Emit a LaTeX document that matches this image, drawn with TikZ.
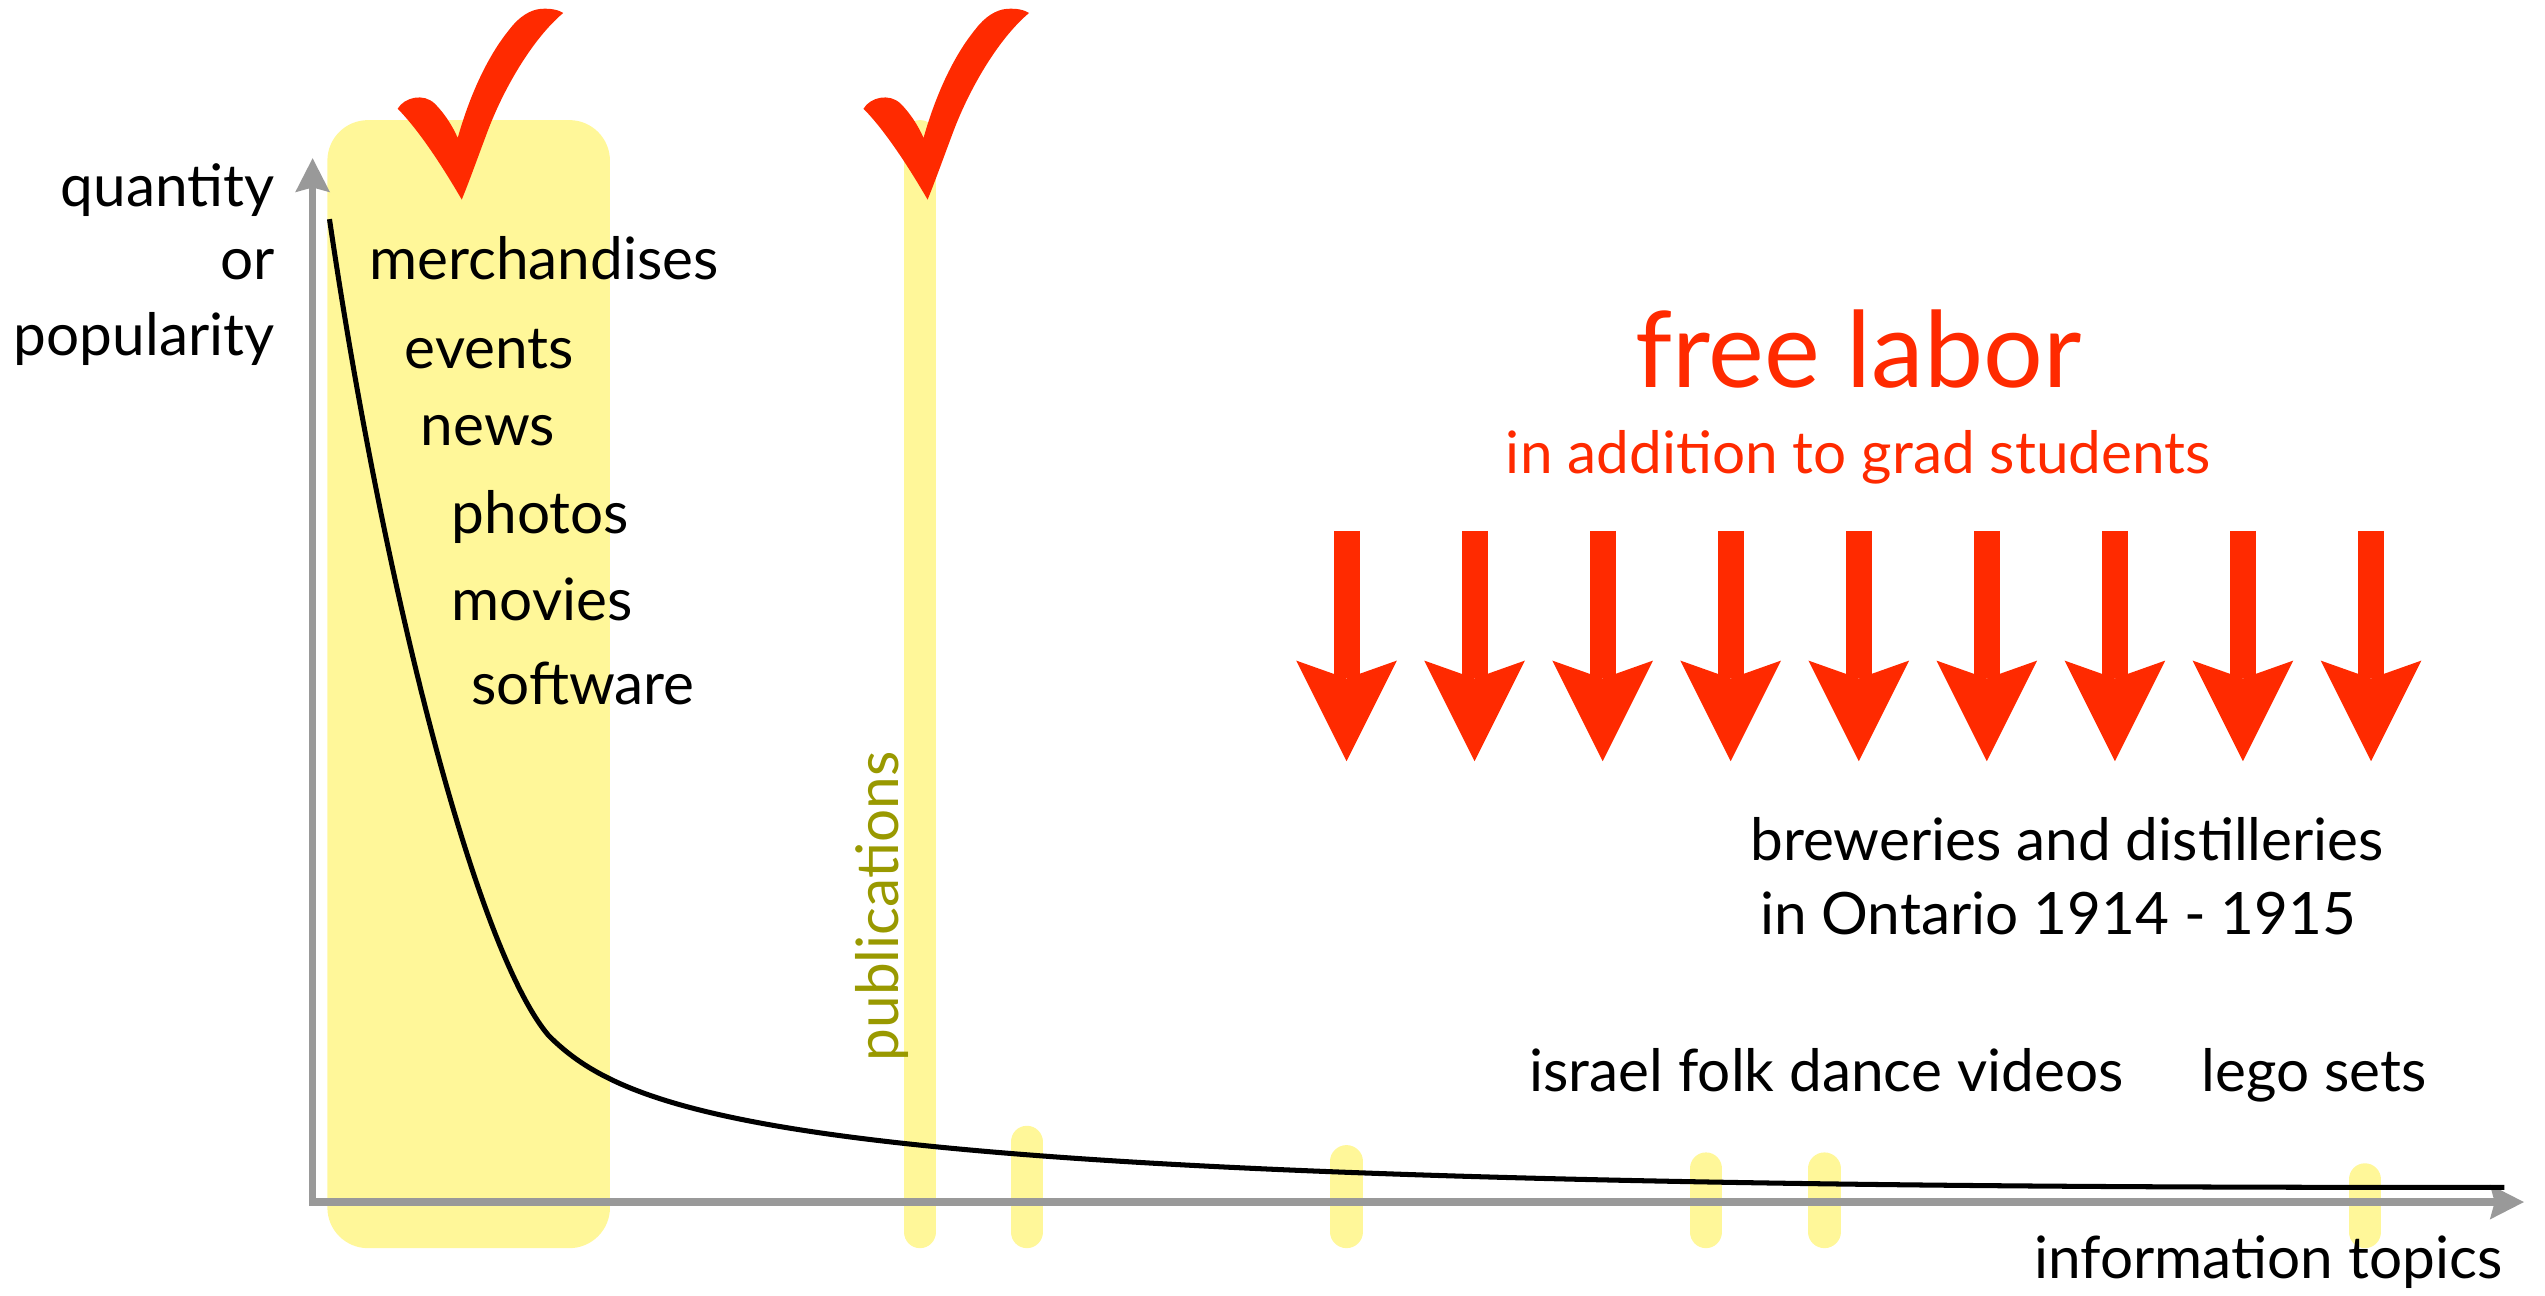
\documentclass[tikz,border=0pt]{standalone}
\usepackage{fontspec}
\setmainfont{Lato}
\usetikzlibrary{arrows.meta}
\definecolor{tailyellow}{HTML}{FFF799}
\definecolor{laborred}{HTML}{FF2A00}
\definecolor{axisgray}{HTML}{999999}
\definecolor{pubolive}{HTML}{999900}
\tikzset{
  redcheck/.pic={
    \fill[laborred] (0,0) .. controls (-14.5,-25) and (-28.5,-45) .. (-39.5,-56)
      .. controls (-35.5,-63) and (-23.5,-66) .. (-16.5,-59)
      .. controls (-10.5,-53) and (-5.5,-45) .. (-2.5,-38)
      .. controls (4.5,-63) and (15.5,-88) .. (29.5,-105)
      .. controls (35.5,-113) and (42.5,-117) .. (48.5,-117.5)
      .. controls (54.5,-118) and (59.5,-117) .. (62.5,-115)
      .. controls (43.5,-99) and (25.5,-68) .. (15.5,-41)
      .. controls (9.5,-25) and (4.5,-11) .. (0,0) -- cycle;
  }
}

\begin{document}
\begin{tikzpicture}[x=.2mm,y=-.2mm,font=\fontsize{20.5}{24}\selectfont,line cap=butt,line join=miter,
  lab/.style={anchor=base west,inner sep=0pt},
  labr/.style={anchor=base east,inner sep=0pt},
  pill/.style={draw=tailyellow,line width=4mm,line cap=round},
  axis/.style={draw=axisgray,line width=.92mm,
    {Stealth[length=4.2mm,width=4.3mm,inset=.6mm,line width=0pt]}-{Stealth[length=4.2mm,width=4.3mm,inset=.6mm,line width=0pt]}},
  labor/.style={draw=laborred,line width=3.2mm,-{Stealth[length=12.4mm,width=12.4mm,inset=2.2mm,line width=0pt]}}]
  \useasboundingbox (0,0) rectangle (1568,798);
  % highlighted head and a few niches
  \fill[tailyellow,rounded corners=5mm] (201.7,74) rectangle (375.8,769);
  \draw[pill] (566.8,84) -- (566.8,759);
  \foreach \x/\top in {632.6/693.6,829.6/705.5,1051/710,1124/710,1457/716.7}{
    \draw[pill] (\x,\top+10) -- (\x,759);
  }
  \draw[axis] (192.6,97.5) -- (192.6,740.6) -- (1555,740.6);
  % the long tail
  \draw[line width=.62mm] (203,135) .. controls (236,360) and (293,585) .. (338,638)
    .. controls (395,695) and (520,733) .. (1543,731.5);
  \node[labr] (qty) at (169.5,127) {quantity};
  \node[labr] (or) at (169.5,172) {or};
  \node[labr] (pop) at (169.5,219) {popularity};
  \foreach \nm/\x/\y in {merchandises/227/172,events/249/227,news/259/274.5,
    photos/278/329,movies/278/382,software/290/434}{
    \node[lab] (\nm) at (\x,\y) {\nm};
  }
  \node[rotate=90,anchor=base,inner sep=0pt,text=pubolive] (pubs) at (553.5,558.5) {publications};
  \node[anchor=base,inner sep=0pt,text=laborred,font=\fontsize{37}{40}\selectfont] (free) at (1145,238.5) {free labor};
  \node[anchor=base,inner sep=0pt,text=laborred] (addition) at (1145,291.6) {in addition to grad students};
  \foreach \i in {0,...,8}{
    \draw[labor] ({829.6+78.9*\i},327) -- ({829.6+78.9*\i},469);
  }
  \node[lab] (brew) at (1078,530) {breweries and distilleries};
  \node[lab] (ontario) at (1084,576) {in Ontario 1914 - 1915};
  \node[lab] (israel) at (942,672.6) {israel folk dance videos};
  \node[lab] (lego) at (1356,672.6) {lego sets};
  \node[labr] (topics) at (1542,787.6) {information topics};
  \pic at (284.5,123) {redcheck};
  \pic at (571.5,123) {redcheck};
\end{tikzpicture}
\end{document}
